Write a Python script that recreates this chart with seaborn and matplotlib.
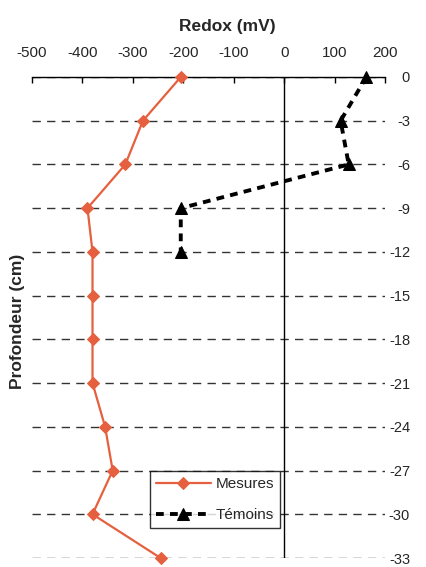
import matplotlib
matplotlib.use("Agg")
import matplotlib.pyplot as plt
import seaborn as sns
import pandas as pd

depths = [0, -3, -6, -9, -12, -15, -18, -21, -24, -27, -30, -33]
mesures = [-205, -280, -315, -390, -380, -380, -380, -380, -355, -340, -380, -245]
temoins_depths = [0, -3, -6, -9, -12]
temoins = [163, 112, 128, -205, -205]
x_ticks = [-500, -400, -300, -200, -100, 0, 100, 200]

sns.set_theme(style="white")
plt.rcParams['font.family'] = ['Liberation Sans', 'DejaVu Sans']

fig = plt.figure(figsize=(4.26, 5.67), dpi=100)
ax = fig.add_axes([32/426, 1-558/567, 353/426, 481/567])

df_m = pd.DataFrame({"x": mesures, "y": depths})
df_t = pd.DataFrame({"x": temoins, "y": temoins_depths})

for yv in depths:
    ax.axhline(yv, color="#333333", lw=1.0, ls=(0, (6, 4.5)), zorder=1)
ax.axvline(0, color="black", lw=1.0, zorder=1)

sns.lineplot(data=df_m, x="x", y="y", sort=False, estimator=None, ax=ax,
             color="#E5603E", lw=1.6, marker="D", markersize=6.5,
             markeredgecolor="#E5603E", label="Mesures", clip_on=False, zorder=3)
sns.lineplot(data=df_t, x="x", y="y", sort=False, estimator=None, ax=ax,
             color="black", lw=2.8, ls=(0, (2, 1.6)), marker="^", markersize=8,
             markeredgecolor="black", label="Témoins", clip_on=False, zorder=4)

ax.set_xlim(-500, 200)
ax.set_ylim(-33, 0)
ax.set_xticks(x_ticks)
ax.set_xticklabels([str(v) for v in x_ticks])
ax.xaxis.tick_top()
ax.xaxis.set_label_position("top")
ax.tick_params(axis="x", direction="in", length=4, width=1, color="black",
               labelsize=11, pad=12, top=True, bottom=False)
ax.set_yticks(depths)
ax.set_yticklabels([str(v) for v in depths], ha="right")
ax.yaxis.tick_right()
ax.tick_params(axis="y", length=0, labelsize=10.5, pad=18)

for s in ["left", "right", "bottom"]:
    ax.spines[s].set_visible(False)
ax.spines["top"].set_color("black")
ax.spines["top"].set_linewidth(1.0)

ax.set_xlabel("Redox (mV)", fontsize=12.5, fontweight="bold")
ax.xaxis.set_label_coords((227 - 32) / 353, 1 + (77 - 31) / 481)
ax.set_ylabel("Profondeur (cm)", fontsize=12.5, fontweight="bold")
ax.yaxis.set_label_coords(-(32 - 25) / 353, (558 - 321) / 481)

leg = ax.legend(loc="lower right", bbox_to_anchor=(0.703, 0.062), fontsize=11,
                frameon=True, fancybox=False, edgecolor="black",
                handlelength=3.6, handletextpad=0.3, borderpad=0.4,
                labelspacing=1.1, borderaxespad=0)
leg.get_frame().set_linewidth(1.0)

fig.savefig("out.png", dpi=100)
